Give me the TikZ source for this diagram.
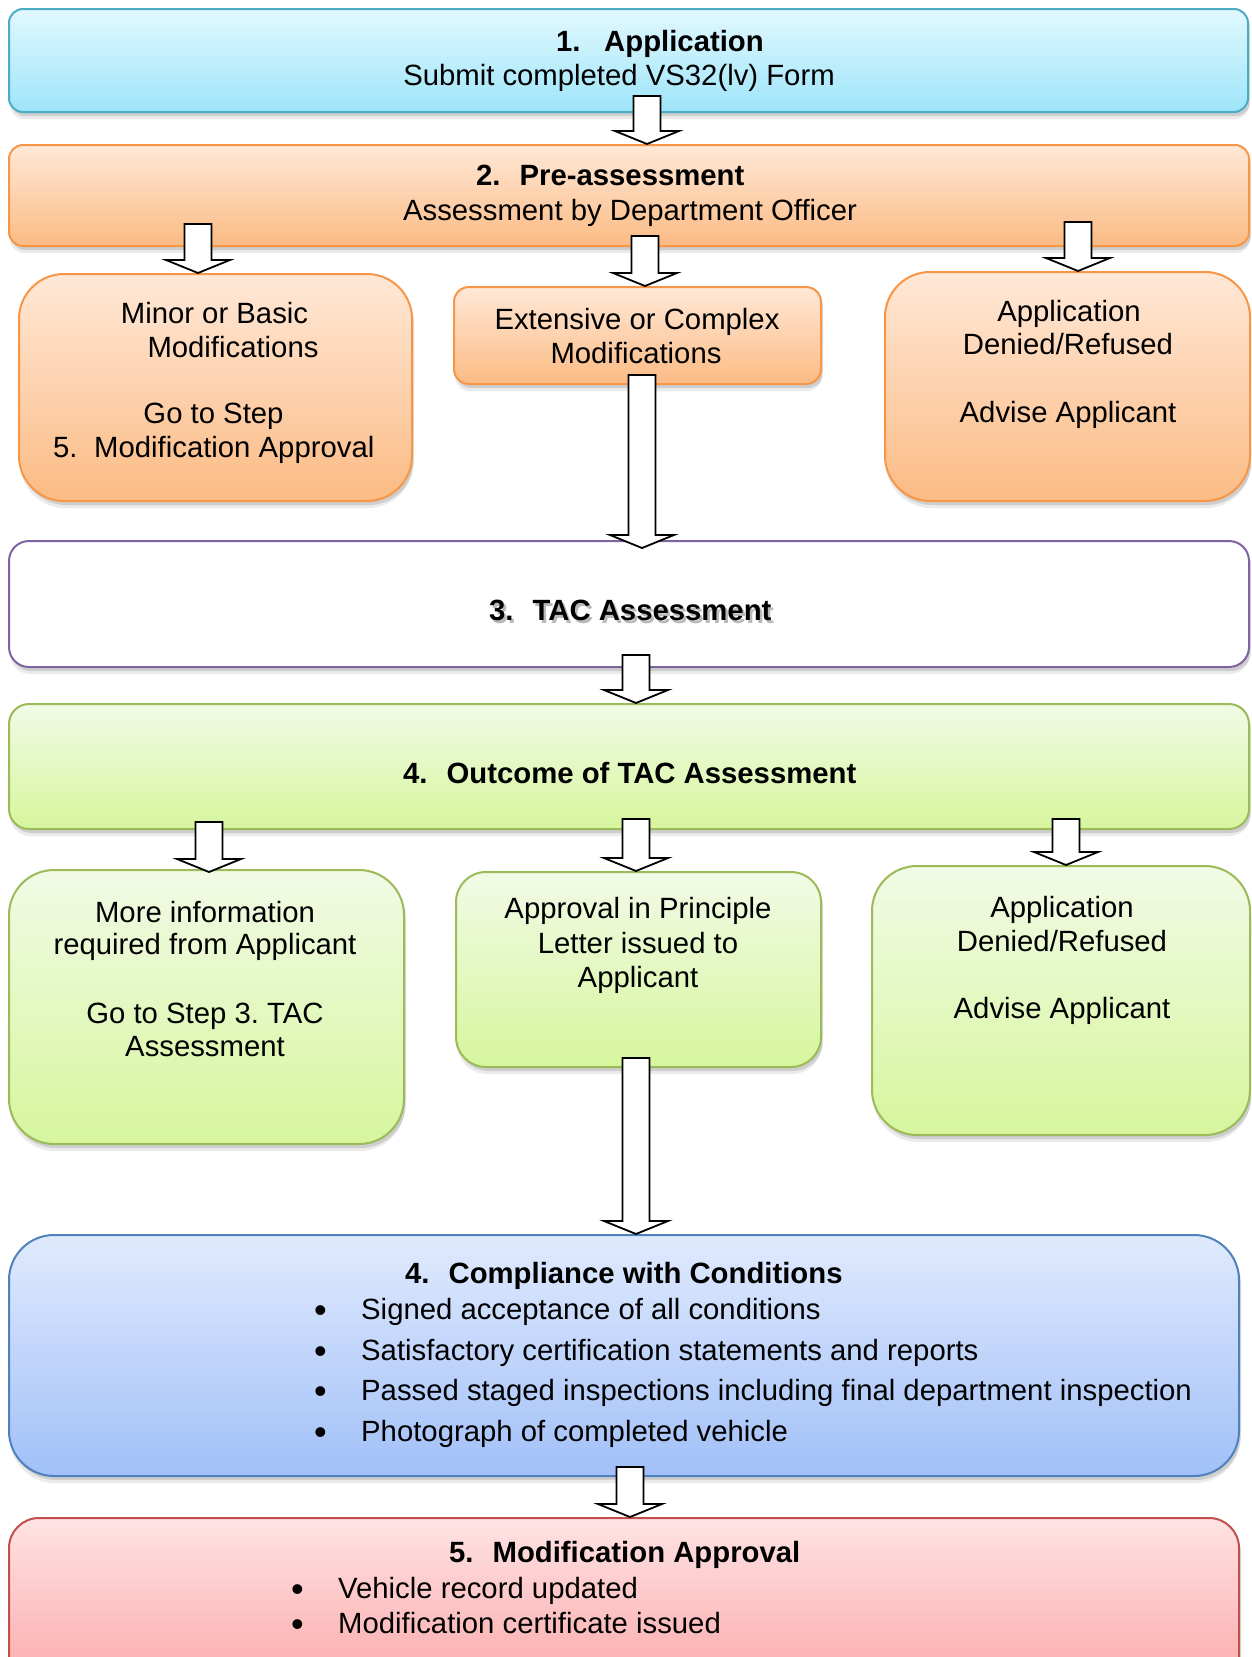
\documentclass[tikz,border=0pt]{standalone}
\usepackage{fontspec}
\setmainfont{Liberation Sans}
\usetikzlibrary{calc,shadows}
\frenchspacing
\definecolor{cyanT}{HTML}{E2F8FE}
\definecolor{cyanBt}{HTML}{9EE5FA}
\definecolor{cyanB}{HTML}{4BACC6}
\definecolor{orT}{HTML}{FFE8D7}
\definecolor{orBt}{HTML}{FBBB84}
\definecolor{orB}{HTML}{F79646}
\definecolor{grT}{HTML}{F2FAE6}
\definecolor{grBt}{HTML}{D6F69D}
\definecolor{grB}{HTML}{9BBB59}
\definecolor{blT}{HTML}{E0EAFD}
\definecolor{blBt}{HTML}{A1C0F8}
\definecolor{blB}{HTML}{4F81BD}
\definecolor{rdT}{HTML}{FEE3E4}
\definecolor{rdBt}{HTML}{FBA2A2}
\definecolor{rdB}{HTML}{C0504D}
\definecolor{puB}{HTML}{8064A2}
\tikzset{
  lbl/.style={font=\fontsize{29.3}{34}\selectfont, inner sep=0pt, anchor=base},
  lblw/.style={lbl, anchor=base west},
  ttl/.style={lblw, font=\fontsize{29.3}{34}\selectfont\bfseries},
  boxbase/.style={line width=2pt, inner sep=0pt, anchor=north west,
    drop shadow={shadow xshift=2pt, shadow yshift=-4pt, opacity=0.12, fill=black},
    drop shadow={shadow xshift=1pt, shadow yshift=-7pt, opacity=0.08, fill=black}},
  cyanbox/.style={boxbase, draw=cyanB, top color=cyanT, bottom color=cyanBt},
  orbox/.style={boxbase, draw=orB, top color=orT, bottom color=orBt},
  grbox/.style={boxbase, draw=grB, top color=grT, bottom color=grBt},
  blbox/.style={boxbase, draw=blB, top color=blT, bottom color=blBt},
  rdbox/.style={boxbase, draw=rdB, top color=rdT, bottom color=rdBt},
  pubox/.style={boxbase, draw=puB, fill=white},
  blockarrow/.style={draw=black, fill=white, line width=1.8pt, line join=miter}
}
\newcommand\blockarr[2]{%
  \draw[blockarrow] let \p1=(#1), \p2=(#2) in
  (\x1-13.5pt,\y1) -- (\x1+13.5pt,\y1) -- (\x1+13.5pt,\y2+13pt) -- (\x1+32pt,\y2+13pt)
  -- (\x1,\y2) -- (\x1-32pt,\y2+13pt) -- (\x1-13.5pt,\y2+13pt) -- cycle;}
\newcommand\bul{\makebox[47pt][l]{\raisebox{-3pt}{\fontsize{36}{34}\selectfont •}}}
\begin{document}
\begin{tikzpicture}[x=1pt,y=-1pt]
\useasboundingbox (0,0) rectangle (1251,1657);
\clip (0,0) rectangle (1251,1657);
\fill[white] (0,0) rectangle (1251,1657);

% boxes
\node[cyanbox, rounded corners=14pt, minimum width=1239pt, minimum height=103pt] (b1) at (8,8) {};
\node[orbox, rounded corners=14pt, minimum width=1240pt, minimum height=101pt] (b2) at (8,144) {};
\node[orbox, rounded corners=45pt, minimum width=393pt, minimum height=227pt] (r2a) at (18,273) {};
\node[orbox, rounded corners=15pt, minimum width=367pt, minimum height=97pt] (r2b) at (453,286) {};
\node[orbox, rounded corners=45pt, minimum width=365pt, minimum height=229pt] (r2c) at (884,271) {};
\node[pubox, rounded corners=20pt, minimum width=1240pt, minimum height=126pt] (b3) at (8,540) {};
\node[grbox, rounded corners=20pt, minimum width=1240pt, minimum height=125pt] (b4) at (8,703) {};
\node[grbox, rounded corners=45pt, minimum width=395pt, minimum height=274pt] (r4a) at (8,869) {};
\node[grbox, rounded corners=30pt, minimum width=365pt, minimum height=195pt] (r4b) at (455,871) {};
\node[grbox, rounded corners=45pt, minimum width=378pt, minimum height=269pt] (r4c) at (871,865) {};
\node[blbox, rounded corners=45pt, minimum width=1230pt, minimum height=241pt] (b5) at (8,1234) {};
\node[rdbox, rounded corners=30pt, minimum width=1230pt, minimum height=190pt] (b6) at (8,1517) {};

% texts
\node[ttl] (t1a) at (556,51) {1.\hspace{23.6pt}Application};
\node[lbl] (t1b) at (619,85) {Submit completed VS32(lv) Form};
\node[ttl] (t2a) at (476,185) {2.\hspace{19pt}Pre-assessment};
\node[lbl] (t2b) at (630,220) {Assessment by Department Officer};

\node[lbl] (m1) at (214.5,323) {Minor or Basic};
\node[lbl] (m2) at (233,357) {Modifications};
\node[lbl] (m3) at (213.5,423) {Go to Step};
\node[lblw] (m4) at (53,457) {5.\hspace{16.6pt}Modification Approval};
\node[lbl] (e1) at (637,329) {Extensive or Complex};
\node[lbl] (e2) at (636,363) {Modifications};
\node[lbl] (d1) at (1069,321) {Application};
\node[lbl] (d2) at (1068,354) {Denied/Refused};
\node[lbl] (d3) at (1068,422) {Advise Applicant};

\node[ttl, text=black!45, opacity=0.6] (t3s) at (491.5,623) {3.\hspace{19pt}TAC Assessment};
\node[ttl] (t3) at (489,620) {3.\hspace{19pt}TAC Assessment};
\node[ttl] (t4) at (403,783) {4.\hspace{19pt}Outcome of TAC Assessment};

\node[lbl] (i1) at (205,922) {More information};
\node[lbl] (i2) at (205,954) {required from Applicant};
\node[lbl] (i3) at (205,1023) {Go to Step 3. TAC};
\node[lbl] (i4) at (205,1056) {Assessment};
\node[lbl] (p1) at (638,918) {Approval in Principle};
\node[lbl] (p2) at (638,953) {Letter issued to};
\node[lbl] (p3) at (638,987) {Applicant};
\node[lbl] (f1) at (1062,917) {Application};
\node[lbl] (f2) at (1062,951) {Denied/Refused};
\node[lbl] (f3) at (1062,1018) {Advise Applicant};

\node[ttl] (c0) at (405,1283) {4.\hspace{19pt}Compliance with Conditions};
\node[lblw] (c1) at (314,1319) {\bul Signed acceptance of all conditions};
\node[lblw] (c2) at (314,1360) {\bul Satisfactory certification statements and reports};
\node[lblw] (c3) at (314,1400) {\bul Passed staged inspections including final department inspection};
\node[lblw] (c4) at (314,1441) {\bul Photograph of completed vehicle};

\node[ttl] (a0) at (449,1562) {5.\hspace{19pt}Modification Approval};
\node[lblw] (a1) at (291,1598) {\bul Vehicle record updated};
\node[lblw] (a2) at (291,1633) {\bul Modification certificate issued};

% arrow start coordinates
\coordinate (s1) at (647,96);
\coordinate (s2L) at (198,224);
\coordinate (s2M) at (645,236);
\coordinate (s2R) at (1078,222);
\coordinate (s3) at (642,375);
\coordinate (s4) at (636,655);
\coordinate (s5L) at (209,822);
\coordinate (s5M) at (636,819);
\coordinate (s5R) at (1066,819);
\coordinate (s6) at (636,1058);
\coordinate (s7) at (630,1467);

\blockarr{s1}{s1 |- b2.north}
\blockarr{s2L}{s2L |- r2a.north}
\blockarr{s2M}{s2M |- r2b.north}
\blockarr{s2R}{s2R |- r2c.north}
\blockarr{s3}{$(s3 |- b3.north)+(0,8)$}
\blockarr{s4}{s4 |- b4.north}
\blockarr{s5L}{$(s5L |- r4a.north)+(0,3)$}
\blockarr{s5M}{s5M |- r4b.north}
\blockarr{s5R}{s5R |- r4c.north}
\blockarr{s6}{s6 |- b5.north}
\blockarr{s7}{s7 |- b6.north}
\end{tikzpicture}
\end{document}
